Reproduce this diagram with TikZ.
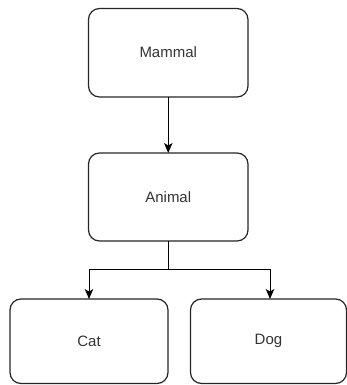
\documentclass[tikz,border=0pt]{standalone}
\usepackage{fontspec}
\setmainfont{Liberation Sans}
\usetikzlibrary{arrows.meta}
\begin{document}
\begin{tikzpicture}[x=1pt,y=-1pt,
  box/.style={draw=black!85,line width=1.2pt,rounded corners=11pt,fill=white},
  lbl/.style={font=\fontsize{15pt}{17pt}\selectfont,text=black!80},
  conn/.style={draw=black,line width=1pt,-{Stealth[length=10pt,width=8.5pt,inset=2.5pt]}}]
\useasboundingbox (0,0) rectangle (347,385);
\draw[box] (88.5,8.5) rectangle (248,97);
\node[lbl] (mammal) at (168.25,52) {Mammal};
\draw[box] (88.5,153) rectangle (248,241);
\node[lbl] (animal) at (168.25,197) {Animal};
\draw[box] (10,299) rectangle (168,383.5);
\node[lbl] (cat) at (89,341) {Cat};
\draw[box] (190.5,299) rectangle (346.5,383.5);
\node[lbl] (dog) at (268.5,341) {Dog};
\coordinate (mb) at (168.25,97);
\coordinate (at) at (168.25,153);
\coordinate (ab) at (168.25,241);
\coordinate (jn) at (168.25,269);
\coordinate (ct) at (89,299);
\coordinate (dt) at (270,299);
\draw[conn] (mb) -- (at);
\draw[conn] (ab) -- (jn) -| (ct);
\draw[conn] (jn) -| (dt);
\end{tikzpicture}
\end{document}
